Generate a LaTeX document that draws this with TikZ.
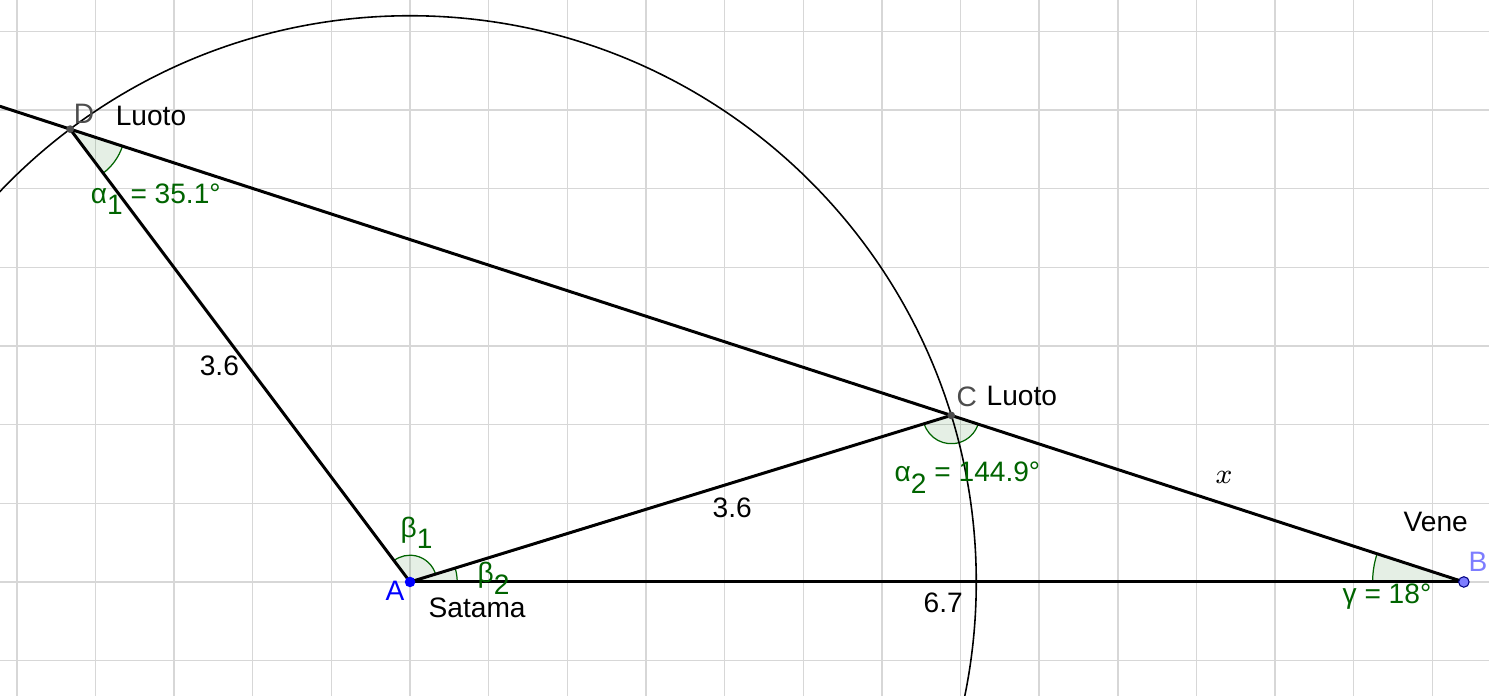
\documentclass[tikz,border=0pt]{standalone}
\usepackage{fontspec}
\setmainfont{Liberation Sans}
\usepackage{tikz}
\definecolor{angcol}{RGB}{0,100,0}
\definecolor{ptgray}{RGB}{77,77,77}
\definecolor{ptblue}{RGB}{0,0,255}
\definecolor{ptlight}{RGB}{125,125,255}
\definecolor{gridcol}{RGB}{215,215,215}

\tikzset{
    lab/.style={anchor=base west, inner sep=0pt, font=\fontsize{8}{9.6}\selectfont},
    anglab/.style={lab, text=angcol},
    sector/.style={draw=angcol, fill=angcol, fill opacity=0.1, line width=0.35pt},
    seg/.style={line width=0.85pt},
}
\newcommand{\lowsub}[1]{\raisebox{-0.42em}{#1}}

\begin{document}
\begin{tikzpicture}[x=1.573cm, y=1.573cm]
        \useasboundingbox (-2.607,-0.725) rectangle (6.860,3.700);
        \clip (-2.607,-0.725) rectangle (6.860,3.700);
        \fill[white] (-2.607,-0.725) rectangle (6.860,3.700);
        \draw[gridcol, line width=0.4pt, step=0.5] (-2.607,-0.725) grid (6.860,3.700);

        \coordinate (A) at (0,0);
        \coordinate (B) at (6.7,0);
        \coordinate (C) at (3.44071,1.05901);
        \coordinate (D) at (-2.16114,2.87916);
        \coordinate (E) at (-2.65,3.0380);

        % angles
        \draw[sector] (D) -- ++(-53.11:0.35) arc[start angle=-53.11, end angle=-18, radius=0.35] -- cycle;
        \draw[sector] (A) -- ++(17.11:0.17) arc[start angle=17.11, end angle=126.89, radius=0.17] -- cycle;
        \draw[sector] (A) -- ++(0:0.30) arc[start angle=0, end angle=17.11, radius=0.30] -- cycle;
        \draw[sector] (C) -- ++(197.11:0.18) arc[start angle=197.11, end angle=342, radius=0.18] -- cycle;
        \draw[sector] (B) -- ++(162:0.58) arc[start angle=162, end angle=180, radius=0.58] -- cycle;

        \draw[line width=0.45pt] (A) circle[radius=3.6];

        \draw[seg] (A) -- (B);
        \draw[seg] (A) -- (C);
        \draw[seg] (A) -- (D);
        \draw[seg] (E) -- (D) -- (C) -- (B);

        \fill[ptgray] (D) circle[radius=1.1pt];
        \fill[ptgray] (C) circle[radius=1.1pt];
        \fill[ptblue] (A) circle[radius=1.5pt];
        \filldraw[fill=ptlight, draw=ptblue!50!black, line width=0.3pt] (B) circle[radius=1.5pt];

        \node[lab, text=ptgray] (Dlab) at (-2.142,2.918) {D};
        \node[lab] (luotoD) at (-1.875,2.899) {Luoto};
        \node[lab, text=ptgray] (Clab) at (3.471,1.113) {C};
        \node[lab] (luotoC) at (3.662,1.125) {Luoto};
        \node[lab, text=ptblue] (Alab) at (-0.159,-0.121) {A};
        \node[lab] (satama) at (0.114,-0.223) {Satama};
        \node[lab, text=ptlight] (Blab) at (6.726,0.064) {B};
        \node[lab] (vene) at (6.313,0.318) {Vene};

        \node[lab] (ad) at (-1.341,1.310) {3.6};
        \node[lab] (ac) at (1.920,0.413) {3.6};
        \node[lab] (ab) at (3.261,-0.191) {6.7};
        \node[lab] (cb) at (5.118,0.629) {$x$};

        \node[anglab] (alpha1) at (-2.034,2.409) {α\lowsub{1} = 35.1°};
        \node[anglab] (alpha2) at (3.077,0.636) {α\lowsub{2} = 144.9°};
        \node[anglab] (beta1) at (-0.064,0.285) {β\lowsub{1}};
        \node[anglab] (beta2) at (0.426,-0.006) {β\lowsub{2}};
        \node[anglab] (gamma) at (5.925,-0.134) {γ = 18°};
    \end{tikzpicture}
\end{document}
